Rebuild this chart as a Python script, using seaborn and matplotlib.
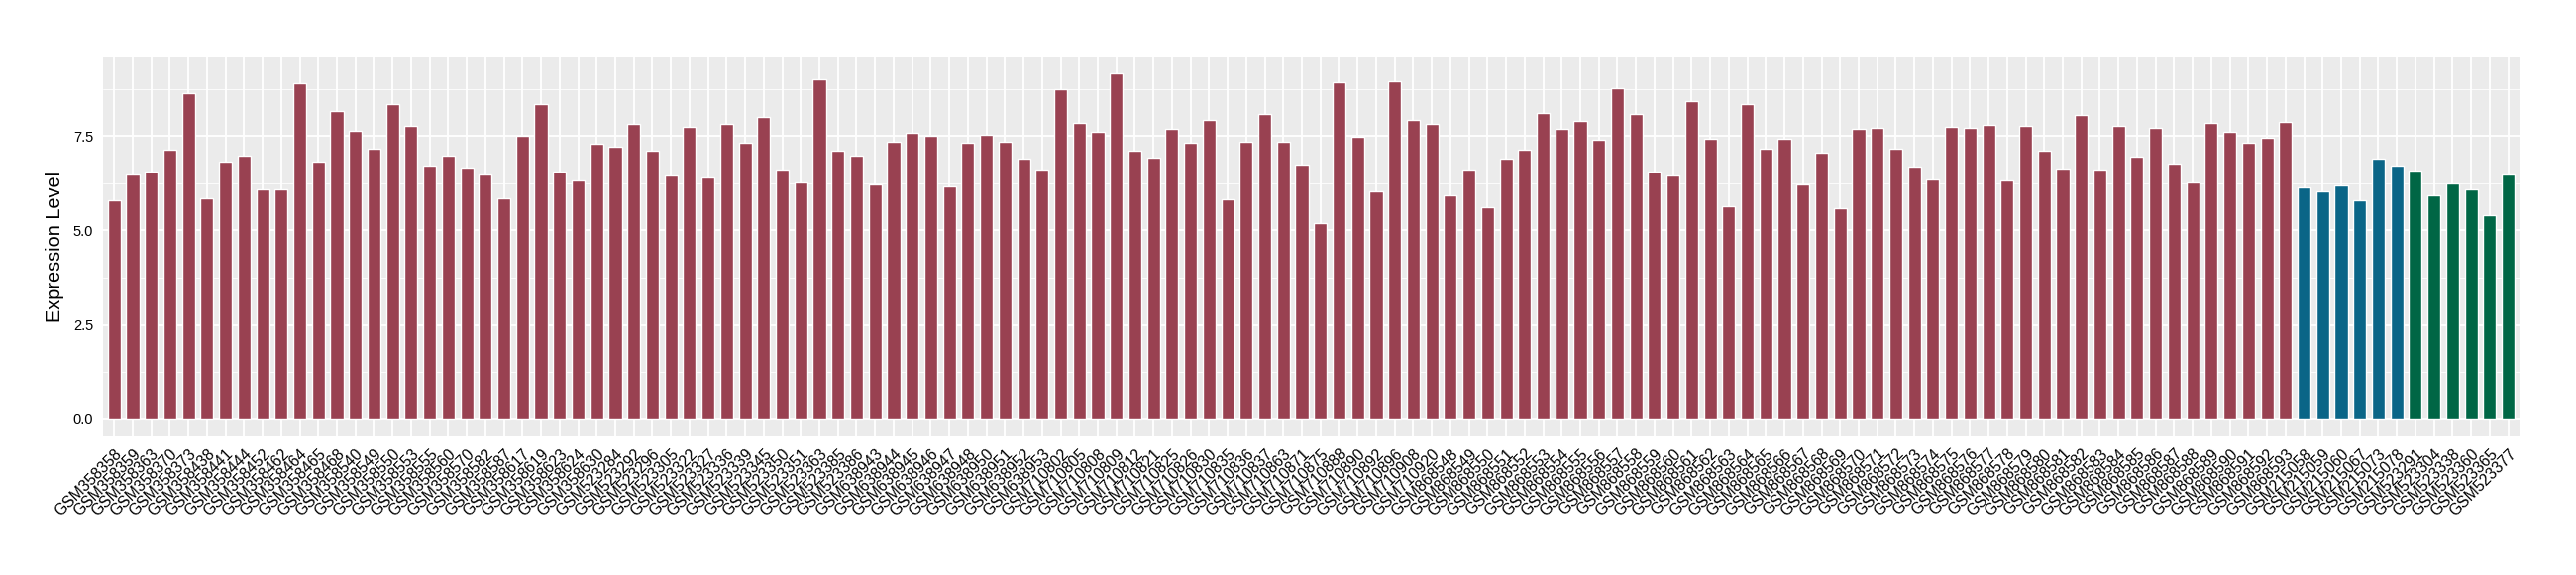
import pandas as pd
import matplotlib.pyplot as plt
import seaborn as sns
from matplotlib.ticker import MultipleLocator

# Sample ids as shown on the x axis
series_a = [
    "GSM358358", "GSM358359", "GSM358363", "GSM358370", "GSM358373",
    "GSM358438", "GSM358441", "GSM358444", "GSM358452", "GSM358462",
    "GSM358464", "GSM358465", "GSM358468", "GSM358540", "GSM358549",
    "GSM358550", "GSM358553", "GSM358555", "GSM358560", "GSM358570",
    "GSM358582", "GSM358587", "GSM358617", "GSM358619", "GSM358623",
    "GSM358624", "GSM358630", "GSM523284", "GSM523292", "GSM523296",
    "GSM523305", "GSM523322", "GSM523327", "GSM523336", "GSM523339",
    "GSM523345", "GSM523350", "GSM523351", "GSM523363", "GSM523385",
    "GSM523386", "GSM638943", "GSM638944", "GSM638945", "GSM638946",
    "GSM638947", "GSM638948", "GSM638950", "GSM638951", "GSM638952",
    "GSM638953", "GSM710802", "GSM710805", "GSM710808", "GSM710809",
    "GSM710812", "GSM710821", "GSM710825", "GSM710826", "GSM710830",
    "GSM710835", "GSM710836", "GSM710837", "GSM710863", "GSM710871",
    "GSM710875", "GSM710888", "GSM710890", "GSM710892", "GSM710896",
    "GSM710908", "GSM710920", "GSM868548", "GSM868549", "GSM868550",
    "GSM868551", "GSM868552", "GSM868553", "GSM868554", "GSM868555",
    "GSM868556", "GSM868557", "GSM868558", "GSM868559", "GSM868560",
    "GSM868561", "GSM868562", "GSM868563", "GSM868564", "GSM868565",
    "GSM868566", "GSM868567", "GSM868568", "GSM868569", "GSM868570",
    "GSM868571", "GSM868572", "GSM868573", "GSM868574", "GSM868575",
    "GSM868576", "GSM868577", "GSM868578", "GSM868579", "GSM868580",
    "GSM868581", "GSM868582", "GSM868583", "GSM868584", "GSM868585",
    "GSM868586", "GSM868587", "GSM868588", "GSM868589", "GSM868590",
    "GSM868591", "GSM868592", "GSM868593",
]
series_b = ["GSM215058", "GSM215059", "GSM215060", "GSM215067", "GSM215073", "GSM215078"]
series_c = ["GSM523291", "GSM523304", "GSM523338", "GSM523360", "GSM523365", "GSM523377"]

values_a = [
    5.80, 6.48, 6.56, 7.13, 8.63, 5.85, 6.82, 6.98, 6.08, 6.08,
    8.89, 6.82, 8.16, 7.63, 7.16, 8.34, 7.76, 6.71, 6.98, 6.66,
    6.48, 5.85, 7.50, 8.34, 6.56, 6.32, 7.29, 7.21, 7.81, 7.11,
    6.45, 7.74, 6.40, 7.81, 7.32, 8.00, 6.61, 6.27, 8.99, 7.11,
    6.98, 6.22, 7.34, 7.58, 7.50, 6.16, 7.32, 7.53, 7.34, 6.90,
    6.61, 8.73, 7.84, 7.60, 9.15, 7.11, 6.92, 7.68, 7.32, 7.92,
    5.82, 7.34, 8.08, 7.34, 6.74, 5.19, 8.92, 7.47, 6.03, 8.94,
    7.92, 7.81, 5.93, 6.61, 5.61, 6.90, 7.13, 8.10, 7.68, 7.89,
    7.40, 8.76, 8.08, 6.56, 6.45, 8.42, 7.42, 5.64, 8.34, 7.16,
    7.42, 6.22, 7.05, 5.59, 7.68, 7.71, 7.16, 6.69, 6.35, 7.74,
    7.71, 7.79, 6.32, 7.76, 7.11, 6.63, 8.05, 6.61, 7.76, 6.95,
    7.71, 6.77, 6.27, 7.84, 7.60, 7.32, 7.45, 7.87,
]
values_b = [6.14, 6.03, 6.19, 5.80, 6.90, 6.71]
values_c = [6.58, 5.93, 6.24, 6.08, 5.40, 6.48]

group_colors = {"A": "#994151", "B": "#0A6587", "C": "#006645"}

samples = series_a + series_b + series_c
df = pd.DataFrame({
    "sample": samples,
    "expression": values_a + values_b + values_c,
    "group": ["A"] * len(series_a) + ["B"] * len(series_b) + ["C"] * len(series_c),
})

sns.set_theme(style="darkgrid")
plt.rcParams["font.family"] = ["Liberation Sans", "DejaVu Sans"]

fig = plt.figure(figsize=(26, 5.8), dpi=100)
ax = fig.add_axes([0.04, 0.241, 0.938, 0.661])
ax.set_facecolor("#EBEBEB")

sns.barplot(
    data=df, x="sample", y="expression", hue="group", order=samples,
    palette=group_colors, width=0.7, dodge=False, legend=False,
    saturation=1, ax=ax,
)

ymax = df["expression"].max()
ax.set_xlim(-0.6, len(samples) - 0.4)
ax.set_ylim(-0.05 * ymax, 1.05 * ymax)
ax.yaxis.set_major_locator(MultipleLocator(2.5))
ax.yaxis.set_minor_locator(MultipleLocator(1.25))
ax.yaxis.set_major_formatter(lambda v, p: f"{v:.1f}")

ax.set_axisbelow(True)
ax.grid(which="major", color="white", linewidth=1.3)
ax.grid(which="minor", axis="y", color="white", linewidth=0.6)
for s in ax.spines.values():
    s.set_visible(False)

ax.tick_params(axis="both", which="major", length=4, width=1, color="#333333",
               labelcolor="black", pad=3)
ax.tick_params(axis="y", which="major", labelsize=10.5)
ax.tick_params(axis="x", which="major", labelsize=11.3)
ax.tick_params(which="minor", length=0)
plt.setp(ax.get_xticklabels(), rotation=45, ha="right", va="top",
         rotation_mode="anchor")

ax.set_xlabel("")
ax.set_ylabel("Expression Level", fontsize=14.3, color="black", labelpad=6)

fig.savefig("out.png", dpi=100)
